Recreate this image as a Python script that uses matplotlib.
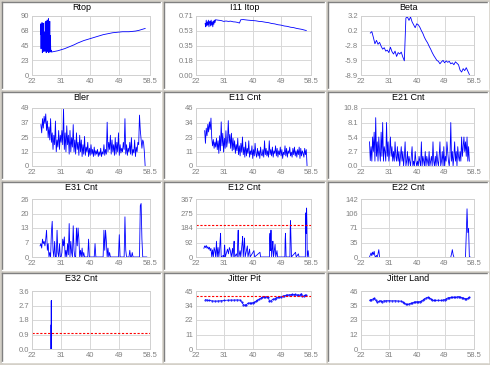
import numpy as np
import matplotlib
matplotlib.use("Agg")
import matplotlib.pyplot as plt
from matplotlib.lines import Line2D
from matplotlib.patches import Rectangle

plt.rcParams['font.family'] = ['Liberation Sans', 'DejaVu Sans']

# ---------------- data ----------------
x_ticks = [22, 31, 40, 49, 58.5]
x_tick_labels = ["22", "31", "40", "49", "58.5"]

titles = ["Rtop", "I11 Itop", "Beta", "Bler", "E11 Cnt", "E21 Cnt",
          "E31 Cnt", "E12 Cnt", "E22 Cnt", "E32 Cnt", "Jitter Pit", "Jitter Land"]

y_tick_labels = [
    ["0", "23", "45", "68", "90"],
    ["0.00", "0.18", "0.35", "0.53", "0.71"],
    ["-8.9", "-5.9", "-2.8", "0.2", "3.2"],
    ["0", "12", "25", "37", "49"],
    ["0", "11", "23", "34", "46"],
    ["0.0", "2.7", "5.4", "8.1", "10.8"],
    ["0", "7", "13", "20", "26"],
    ["0", "92", "184", "275", "367"],
    ["0", "35", "71", "106", "142"],
    ["0.0", "0.9", "1.8", "2.7", "3.6"],
    ["0", "11", "22", "34", "45"],
    ["0", "12", "23", "35", "46"],
]
y_ranges = [(0, 90), (0, 0.71), (-8.9, 3.2), (0, 49), (0, 46), (0, 10.8),
            (0, 26), (0, 367), (0, 142), (0, 3.6), (0, 45), (0, 46)]

# Rtop: noisy start (24.6..28.0) then smooth curve (28..57, step 1)
rtop_noise = [62, 78, 40, 74, 55, 80, 34, 70, 48, 79, 36, 66, 58, 52, 36, 80, 42, 82,
              34, 76, 50, 84, 36, 80, 40, 86, 34, 72, 45, 82, 35, 60, 36, 38, 36]
rtop_smooth = [35, 36, 37, 38.5, 40, 42, 44, 46, 48.5, 50.5, 52.5, 54, 55.5, 57, 58.5,
               60, 61.5, 62.5, 63.5, 64.5, 65, 65.5, 66, 66, 66, 66.5, 67, 68, 69.5, 71]

# I11 Itop
i11_noise = [0.62, 0.58, 0.66, 0.59, 0.64, 0.60, 0.66, 0.58, 0.63, 0.65,
             0.59, 0.66, 0.60, 0.64, 0.58, 0.65, 0.61, 0.66, 0.63, 0.66]
i11_x = [28.2, 29.0, 30.0, 30.8, 31.5, 32.3, 33.0, 33.8, 34.5, 35.2, 35.8, 36.2, 37.0,
         38.5, 40.0, 41.0, 42.0, 43.0, 44.0, 45.0, 46.0, 47.0, 48.0, 49.0, 50.0, 51.0,
         52.0, 53.0, 54.0, 55.5, 57.0]
i11_y = [0.665, 0.66, 0.655, 0.645, 0.65, 0.645, 0.648, 0.64, 0.638, 0.633, 0.625, 0.665,
         0.667, 0.66, 0.655, 0.652, 0.645, 0.642, 0.635, 0.63, 0.62, 0.615, 0.605, 0.6,
         0.59, 0.585, 0.575, 0.57, 0.56, 0.55, 0.535]

# Beta (25..57 step 0.5)
beta = [-0.3, 0.0, -1.2, -2.5, -1.8, -2.6, -2.2, -3.0, -3.6, -3.3, -4.0, -3.8, -4.3,
        -3.2, -4.1, -4.6, -4.0, -5.1, -4.3, -4.6, -4.2, -5.2, -6.0, 2.8, 3.0, 2.3, 3.0,
        2.0, 1.4, 0.8, 1.6, 1.4, 0.9, 0.2, -0.4, -1.2, -1.8, -2.3, -3.0, -3.6, -4.3,
        -4.9, -5.4, -5.9, -6.1, -6.6, -6.2, -5.9, -6.4, -6.0, -6.3, -6.1, -6.6, -6.4,
        -6.8, -6.2, -6.5, -6.8, -7.9, -8.3, -7.6, -8.0, -7.4, -8.1, -8.8]

# Bler (24.75..57 step 0.25)
bler = [35,
        28, 40, 32, 42, 36, 44, 30, 38, 24, 33, 22, 40, 20, 28, 14, 26,
        18, 38, 12, 22, 16, 30, 14, 26, 20, 30, 18, 49, 14, 28, 12, 34,
        18, 26, 10, 30, 12, 24, 16, 35, 12, 22, 10, 28, 14, 20, 9, 26,
        12, 22, 8, 18, 10, 25, 9, 16, 12, 20, 8, 15, 9, 18, 10, 14,
        8, 16, 9, 13, 10, 14, 8, 12, 9, 15, 8, 12, 10, 18, 9, 14,
        10, 37, 12, 20, 14, 26, 10, 22, 12, 18, 9, 24, 10, 20, 12, 28,
        9, 18, 11, 15, 12, 20, 14, 40, 10, 18, 9, 15, 12, 20, 10, 24,
        9, 14, 11, 22, 8, 16, 12, 20, 18, 43, 30, 22, 15, 22, 20, 12,
        0]

# E11 Cnt (24.75..57.25 step 0.25)
e11 = [28,
       18, 30, 24, 33, 27, 35, 29, 38, 22, 16, 21, 14, 19, 15, 22, 13,
       20, 10, 24, 12, 35, 16, 26, 11, 22, 14, 28, 15, 20, 36, 18, 25,
       14, 26, 12, 22, 13, 20, 10, 17, 12, 22, 9, 16, 8, 18, 11, 23,
       9, 15, 7, 19, 8, 14, 10, 20, 7, 12, 9, 16, 6, 13, 8, 18,
       10, 7, 14, 8, 12, 6, 15, 9, 8, 13, 7, 20, 9, 14, 8, 12,
       7, 20, 9, 13, 8, 15, 7, 12, 10, 16, 8, 14, 7, 12, 9, 15,
       8, 13, 6, 11, 9, 16, 8, 14, 7, 12, 10, 15, 8, 11, 7, 14,
       9, 15, 8, 12, 7, 13, 9, 15, 6, 14, 8, 12, 10, 7, 14, 9,
       13, 0]

# E21 Cnt (24.75..57 step 0.25)
e21 = [4.5,
       1.0, 3.6, 0.9, 5.4, 2.7, 6.3, 0.9, 9.0, 1.8, 4.5, 0.9, 5.4, 2.7, 0.9, 6.3, 1.8,
       8.1, 0.9, 3.6, 2.7, 0.9, 8.1, 1.8, 4.5, 0.9, 2.7, 5.4, 1.8, 3.6, 0.9, 2.7, 0.9,
       4.5, 1.8, 0.9, 3.6, 0.9, 2.7, 0.0, 1.8, 3.6, 0.9, 2.7, 0.0, 1.8, 4.5, 0.0, 0.9,
       2.7, 0.0, 1.8, 0.9, 0.0, 1.8, 3.6, 0.0, 0.9, 0.0, 2.7, 0.9, 0.0, 0.9, 0.0, 1.8,
       0.9, 0.0, 4.5, 0.0, 1.8, 0.9, 0.0, 2.7, 0.0, 1.8, 0.9, 0.0, 2.7, 0.0, 0.9, 1.8,
       0.0, 4.5, 0.9, 0.0, 1.8, 0.0, 2.7, 0.9, 0.0, 1.8, 4.5, 0.0, 0.9, 2.7, 0.0, 3.6,
       0.0, 1.8, 0.9, 4.5, 2.7, 0.9, 0.0, 1.8, 8.1, 0.9, 2.7, 0.0, 1.8, 4.5, 0.9, 2.7,
       0.0, 3.6, 1.8, 0.9, 2.7, 0.9, 5.4, 1.8, 3.6, 5.4, 2.7, 4.5, 1.8, 5.4, 0.9, 3.6,
       0.9]

# E31 Cnt (24.5.. step 0.25)
e31 = [5, 6,
       4, 8, 6, 7, 5, 8, 12, 3, 6, 0, 2, 0, 11, 16, 3, 0,
       7, 0, 0, 12, 2, 0, 6, 0, 0, 2, 8, 5, 9, 0, 3, 0,
       6, 1, 15, 0, 7, 2, 0, 14, 3, 0, 0, 13, 5, 13, 8, 0,
       3, 0, 4, 0, 2, 0, 0, 0, 0, 0, 8, 0, 0, 0, 0, 0,
       0, 0, 6, 0, 0, 0, 0, 0, 0, 0, 0, 0, 0, 12, 3, 12,
       7, 0, 4, 0, 2, 0, 0, 0, 0, 0, 0, 0, 0, 0, 0, 0,
       10, 0, 0, 0, 0, 0, 0, 18, 3, 0, 0, 0, 0, 3, 0, 0,
       2, 0, 0, 0, 0, 0, 0, 0, 0, 0, 23, 24, 8, 0, 0, 0,
       0, 0, 0]

# E12 Cnt: sample positions and counts
e12_x = [24.5, 24.75, 25.0, 25.25, 25.5, 25.75, 26.0, 26.25, 26.5, 26.75, 27.0, 27.25,
         27.5, 27.75, 28.0, 28.25, 28.5, 28.75, 29.0, 29.25, 29.5, 29.7, 29.8, 29.9,
         30.0, 30.7, 30.9, 31.0, 31.1, 31.3, 32.0, 32.3, 32.6, 32.9, 33.2, 33.6, 33.8,
         34.0, 34.1, 34.3, 34.8, 35.1, 35.3, 35.4, 35.5, 35.6, 36.0, 36.2, 36.7, 36.8,
         37.0, 37.3, 37.4, 37.6, 38.3, 38.5, 39.0, 39.2, 40.4, 40.6, 42.3, 42.5, 45.3,
         45.4, 45.5, 45.65, 45.75, 45.8, 46.0, 46.3, 46.4, 46.6, 47.1, 47.3, 47.7, 47.9,
         50.2, 50.3, 50.4, 50.6, 51.8, 51.9, 52.0, 52.1, 52.3, 53.6, 53.8, 54.5, 54.7,
         56.7, 56.8, 56.9, 57.0, 57.1, 57.2, 57.3, 57.6, 57.8]
e12_y = [55, 70, 60, 73, 55, 65, 50, 62, 40, 55, 0, 45,
         0, 60, 40, 0, 100, 0, 60, 0, 50, 120, 150, 60,
         0, 10, 0, 60, 75, 0, 50, 20, 60, 40, 0, 55, 0,
         80, 100, 0, 20, 0, 140, 170, 90, 0, 40, 0, 100, 130,
         0, 90, 120, 0, 70, 0, 50, 0, 40, 0, 30, 0, 0,
         120, 150, 40, 130, 170, 0, 70, 100, 0, 80, 0, 40, 0,
         0, 110, 150, 0, 0, 170, 230, 150, 0, 30, 0, 20, 0,
         0, 200, 280, 150, 310, 220, 0, 40, 0]

# E22 Cnt: three visible groups
e22_a = [0, 5, 10, 3, 12, 6, 14, 2, 0, 4, 0, 8, 18, 0]      # 24.75..28.0
e22_b = [0, 8, 18, 6, 0]                                     # 51.0..52.0
e22_c = [0, 55, 118, 60, 70, 0, 0]                           # 55.75..57.25

# E32 Cnt
e32_x = [27.96, 27.97, 27.98, 28.0, 28.02]
e32_y = [0, 1.5, 0, 3.0, 0]

# Jitter Pit
jp_x = [25.0, 25.5, 26.0, 27.0, 28.0, 29.0, 30.0, 31.0, 32.0, 33.0, 34.0, 35.0, 36.0,
        36.5, 37.0, 37.5, 38.0, 38.5, 39.0, 39.5, 40.0, 40.5, 41.0, 41.5, 42.0, 42.5,
        43.0, 43.5, 44.0, 44.5, 45.0, 45.3, 45.8, 46.3, 47.0, 47.5, 48.0, 48.5, 49.0,
        49.5, 50.0, 50.5, 51.0, 51.5, 52.0, 52.5, 53.0, 53.5, 54.0, 54.5, 55.0, 55.4,
        55.8, 56.2, 56.6, 57.0]
jp_y = [38.3, 38.0, 37.8, 37.4, 37.2, 37.3, 37.5, 37.7, 37.9, 38.0, 38.0, 38.1, 38.0,
        36.5, 34.5, 34.0, 34.5, 35.5, 35.8, 35.4, 36.0, 36.2, 37.0, 37.8, 38.5, 39.3,
        40.0, 40.5, 40.3, 40.6, 40.0, 37.0, 37.5, 38.5, 39.0, 39.8, 40.2, 40.5, 40.3,
        41.0, 41.3, 41.6, 41.9, 42.0, 42.2, 42.4, 42.1, 42.3, 41.8, 42.0, 41.8, 43.0,
        40.8, 41.2, 41.8, 41.6]
jp_limit = 41

# Jitter Land
jl_x = [24.8, 25.3, 25.8, 26.3, 26.8, 27.3, 27.8, 28.3, 28.8, 29.3, 30.0, 31.0, 32.0,
        33.0, 34.0, 35.0, 35.5, 36.0, 36.5, 37.0, 37.5, 38.0, 38.5, 39.0, 39.5, 40.0,
        40.5, 41.0, 41.5, 42.0, 42.5, 43.0, 43.5, 44.0, 44.5, 45.0, 45.5, 46.0, 47.0,
        48.0, 48.5, 49.0, 49.5, 50.0, 50.5, 51.0, 51.5, 52.0, 52.5, 53.0, 53.5, 54.0,
        54.5, 55.0, 55.5, 56.0, 56.5, 57.0]
jl_y = [38.7, 39.2, 39.6, 40.3, 38.5, 37.0, 37.8, 38.4, 37.6, 38.2, 38.3, 38.4, 38.2,
        38.3, 38.1, 38.0, 37.2, 36.3, 35.6, 35.3, 35.8, 36.2, 36.5, 37.0, 37.3, 37.5,
        37.4, 37.6, 38.0, 38.8, 39.8, 40.5, 41.0, 40.7, 39.8, 39.0, 38.5, 38.6, 38.7,
        38.6, 38.9, 39.2, 39.8, 40.5, 40.8, 41.0, 40.9, 41.2, 41.0, 41.3, 41.6, 41.2,
        40.8, 40.5, 40.0, 39.8, 40.2, 41.0]

e12_limit = 201
e32_limit = 1.0

# ---------------- layout ----------------
W, H = 490, 365
BG = '#d4d0c8'
BLUE = '#0000ff'
fig = plt.figure(figsize=(W / 100, H / 100), dpi=100, facecolor=BG)

col_boxes = [(2, 161), (164, 325), (328, 488)]
row_boxes = [(2, 89), (92, 179), (182, 270), (273, 362)]
col_axes = [(32, 150), (196, 311), (361, 474)]
row_axes = [(16, 75), (108, 166), (199, 257), (291, 349)]


def fx(px):
    return px / W


def fy(py):
    return 1 - py / H


axes = []
for r in range(4):
    for c in range(3):
        bx0, bx1 = col_boxes[c]
        by0, by1 = row_boxes[r]
        fig.patches.append(Rectangle((fx(bx0), fy(by1)), (bx1 - bx0) / W, (by1 - by0) / H,
                                     transform=fig.transFigure, facecolor='white',
                                     edgecolor='none', zorder=-3))
        for xs, ys, col in [([bx0, bx1], [by0, by0], '#808080'),
                            ([bx0, bx0], [by0, by1], '#808080'),
                            ([bx0, bx1], [by1, by1], '#ffffff'),
                            ([bx1, bx1], [by0, by1], '#ffffff')]:
            fig.lines.append(Line2D([fx(v) for v in xs], [fy(v) for v in ys],
                                    transform=fig.transFigure, color=col, lw=1, zorder=-2))
        ax0, ax1 = col_axes[c]
        ay0, ay1 = row_axes[r]
        ax = fig.add_axes([fx(ax0), fy(ay1), (ax1 - ax0) / W, (ay1 - ay0) / H])
        ax.set_zorder(1)
        i = r * 3 + c
        lo, hi = y_ranges[i]
        ax.set_xlim(22, 58.5)
        ax.set_ylim(lo, hi)
        ax.set_xticks(x_ticks)
        ax.set_xticklabels(x_tick_labels)
        ax.set_yticks(np.linspace(lo, hi, 5))
        ax.set_yticklabels(y_tick_labels[i])
        ax.tick_params(length=0, pad=2, labelsize=5.5, labelcolor='#808080')
        ax.grid(True, color='#d8d8d8', lw=0.7)
        ax.set_axisbelow(True)
        for s in ax.spines.values():
            s.set_color('#d0d0d0')
            s.set_linewidth(0.7)
        ax.set_facecolor('white')
        fig.text((fx(bx0) + fx(bx1)) / 2, fy(by0 + 5.5), titles[i], ha='center', va='center',
                 fontsize=6.5, color='black', zorder=5)
        axes.append(ax)

lw = 0.6
# Rtop
xr = np.concatenate([np.linspace(24.6, 28.0, len(rtop_noise)), np.linspace(28.0, 57.0, len(rtop_smooth))])
axes[0].plot(xr, rtop_noise + rtop_smooth, color=BLUE, lw=lw)
# I11
axes[1].plot(np.concatenate([np.linspace(24.9, 28.2, len(i11_noise)), i11_x]), i11_noise + i11_y,
             color=BLUE, lw=lw)
# Beta
axes[2].plot(np.linspace(25.0, 57.0, len(beta)), beta, color=BLUE, lw=lw)
# Bler
axes[3].plot(np.linspace(24.75, 57.0, len(bler)), bler, color=BLUE, lw=lw)
# E11
axes[4].plot(np.linspace(24.75, 57.25, len(e11)), e11, color=BLUE, lw=lw)
# E21
axes[5].plot(np.linspace(24.75, 57.0, len(e21)), e21, color=BLUE, lw=lw)
# E31
axes[6].plot(np.linspace(24.5, 24.5 + 0.25 * (len(e31) - 1), len(e31)), e31, color=BLUE, lw=lw)
# E12
axes[7].plot(e12_x, e12_y, color=BLUE, lw=lw)
axes[7].axhline(e12_limit, color='red', lw=0.8, ls=(0, (2, 1.5)))
# E22
axes[8].plot(np.linspace(24.75, 28.0, len(e22_a)), e22_a, color=BLUE, lw=lw)
axes[8].plot(np.linspace(51.0, 52.0, len(e22_b)), e22_b, color=BLUE, lw=lw)
axes[8].plot(np.linspace(55.75, 57.25, len(e22_c)), e22_c, color=BLUE, lw=lw)
# E32
axes[9].plot(e32_x, e32_y, color=BLUE, lw=0.8)
axes[9].axhline(e32_limit, color='red', lw=0.8, ls=(0, (2, 1.5)))
# Jitter Pit
axes[10].plot(jp_x, jp_y, color=BLUE, lw=0.5, marker='.', ms=1.0)
axes[10].axhline(jp_limit, color='red', lw=0.8, ls=(0, (2, 1.5)))
# Jitter Land
axes[11].plot(jl_x, jl_y, color=BLUE, lw=0.5, marker='.', ms=1.0)

fig.savefig('out.png', dpi=100, facecolor=BG)
